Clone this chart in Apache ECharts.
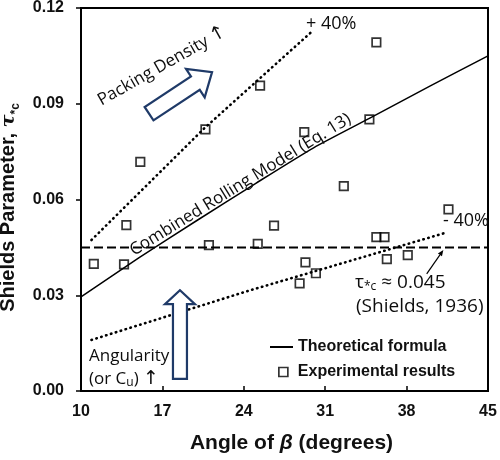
<!DOCTYPE html>
<html><head><meta charset="utf-8">
<script src="https://cdn.jsdelivr.net/npm/echarts@6/dist/echarts.min.js"></script>
<style>html,body{margin:0;padding:0;background:#fff}#c{width:500px;height:460px}</style>
</head><body><div id="c"></div>
<script>
// Experimental results (angle of beta, Shields parameter)
const expX = [11.1, 13.7, 13.9, 15.1, 20.7, 21.0, 25.2, 25.4, 26.6, 28.8, 29.2, 29.3, 30.2, 32.6, 34.8, 35.4, 35.4, 36.1, 36.3, 38.1, 41.6];
const expY = [0.0398, 0.0397, 0.052, 0.0718, 0.082, 0.0457, 0.0461, 0.0957, 0.0518, 0.0337, 0.0811, 0.0403, 0.0369, 0.0642, 0.0851, 0.1092, 0.0482, 0.0482, 0.0413, 0.0426, 0.0569];
// Theoretical formula (Combined Rolling Model, Eq. 13)
const thX = [10, 15, 20, 25, 30, 35, 40, 45];
const thY = [0.0295, 0.0418, 0.0535, 0.065, 0.0762, 0.0858, 0.0955, 0.105];
// +40% and -40% bands
const upX = [10.9, 20.6, 30.0];
const upY = [0.0473, 0.0823, 0.1131];
const loX = [10.9, 24.5, 41.2];
const loY = [0.016, 0.0315, 0.0494];
// Shields (1936) constant
const shX = [10, 45];
const shY = [0.045, 0.045];
// Axis ticks
const xTicks = [10, 17, 24, 31, 38, 45];
const yTicks = [0, 0.03, 0.06, 0.09, 0.12];

const pair = (xs, ys) => xs.map((x, i) => [x, ys[i]]);
const AX = 'Liberation Sans, Arial, sans-serif';
const AN = 'Open Sans, sans-serif';
const TXT = '#0d0d0d';
const NAVY = '#1f3a68';

const chart = echarts.init(document.getElementById('c'), null, {renderer: 'canvas'});
chart.setOption({
  animation: false,
  grid: {left: 81, right: 12, top: 8, bottom: 69, show: true, borderColor: '#000', borderWidth: 2,
    containLabel: false, outerBoundsMode: 'none'},
  xAxis: {
    type: 'value', min: xTicks[0], max: xTicks[xTicks.length - 1], interval: xTicks[1] - xTicks[0],
    axisLine: {lineStyle: {color: '#000', width: 2}},
    axisTick: {inside: true, length: 5, lineStyle: {color: '#000', width: 1.5}},
    axisLabel: {margin: 13, color: '#111', fontFamily: AX, fontWeight: 'bold', fontSize: 16},
    splitLine: {show: false},
    name: 'Angle of {b|β} (degrees)', nameLocation: 'middle', nameGap: 42,
    nameTextStyle: {fontFamily: AX, fontWeight: 'bold', fontSize: 21, color: '#111', padding: [0, 0, 0, 14],
      rich: {b: {fontFamily: AX, fontStyle: 'italic', fontWeight: 'bold', fontSize: 21, color: '#111'}}}
  },
  yAxis: {
    type: 'value', min: yTicks[0], max: yTicks[yTicks.length - 1], interval: yTicks[1] - yTicks[0],
    axisLine: {lineStyle: {color: '#000', width: 2}},
    axisTick: {inside: false, length: 5, lineStyle: {color: '#000', width: 1.5}},
    axisLabel: {margin: 17, color: '#111', fontFamily: AX, fontWeight: 'bold', fontSize: 16, formatter: v => v.toFixed(2)},
    splitLine: {show: false},
    name: 'Shields Parameter, {t|τ}{s|*c}', nameLocation: 'middle', nameGap: 58,
    nameTextStyle: {fontFamily: AX, fontWeight: 'bold', fontSize: 20, color: '#111', lineHeight: 26, padding: [0, 16, 0, 0],
      rich: {
        t: {fontFamily: 'DejaVu Serif, serif', fontStyle: 'italic', fontSize: 19, color: '#111', lineHeight: 26},
        s: {fontFamily: AX, fontSize: 12, color: '#111', lineHeight: 14, verticalAlign: 'bottom'}
      }}
  },
  legend: [
    {data: ['Theoretical formula'], left: 270, top: 339, icon: 'rect', itemWidth: 23, itemHeight: 2, padding: 0, selectedMode: false,
      itemStyle: {color: '#000'}, textStyle: {fontFamily: AX, fontWeight: 'bold', fontSize: 16, color: '#111'}},
    {data: ['Experimental results'], left: 278, top: 364, icon: 'rect', itemWidth: 9, itemHeight: 9, padding: 0, selectedMode: false,
      itemStyle: {color: 'rgba(0,0,0,0)', borderColor: '#000', borderWidth: 1.7},
      textStyle: {fontFamily: AX, fontWeight: 'bold', fontSize: 16, color: '#111', padding: [0, 0, 0, 5]}}
  ],
  series: [
    {name: 'Shields', type: 'line', data: pair(shX, shY), symbol: 'none', z: 2,
      lineStyle: {color: '#000', width: 2, type: [9, 4]}},
    {name: '+40%', type: 'line', data: pair(upX, upY), symbol: 'none', z: 2,
      lineStyle: {color: '#000', width: 2.6, type: [0.5, 4.6], cap: 'round'}},
    {name: '-40%', type: 'line', data: pair(loX, loY), symbol: 'none', z: 2,
      lineStyle: {color: '#000', width: 2.6, type: [0.5, 4.6], cap: 'round'}},
    {name: 'Theoretical formula', type: 'line', data: pair(thX, thY), symbol: 'none', smooth: 0.2, z: 3,
      color: '#000', lineStyle: {color: '#000', width: 1.5}},
    {name: 'Experimental results', type: 'scatter', data: pair(expX, expY), symbol: 'rect', symbolSize: 8.5, z: 5,
      itemStyle: {color: 'rgba(0,0,0,0)', borderColor: '#000', borderWidth: 1.7}}
  ]
});

// Annotation arrows, anchored in data coordinates
function px(p) { return chart.convertToPixel({gridIndex: 0}, p); }
function blockArrow(tail, tip, sw, hw, hl) {
  const a = px(tail), b = px(tip);
  const dx = b[0] - a[0], dy = b[1] - a[1], L = Math.hypot(dx, dy);
  const ux = dx / L, uy = dy / L, nx = -uy, ny = ux;
  const hb = [b[0] - ux * hl, b[1] - uy * hl];
  const P = (o, k) => [o[0] + nx * k, o[1] + ny * k];
  return [P(a, sw / 2), P(hb, sw / 2), P(hb, hw / 2), b, P(hb, -hw / 2), P(hb, -sw / 2), P(a, -sw / 2)];
}
function thinArrow(tail, tip, hl, hw) {
  const a = px(tail), b = px(tip);
  const dx = b[0] - a[0], dy = b[1] - a[1], L = Math.hypot(dx, dy);
  const ux = dx / L, uy = dy / L, nx = -uy, ny = ux;
  const hb = [b[0] - ux * hl, b[1] - uy * hl];
  return {
    line: [a, hb],
    head: [b, [hb[0] + nx * hw / 2, hb[1] + ny * hw / 2], [hb[0] - nx * hw / 2, hb[1] - ny * hw / 2]]
  };
}
const deg = d => d * Math.PI / 180;
const ta = thinArrow([39.73, 0.0367], [41.16, 0.0442], 6, 5);

const subStyle = {fontFamily: AN, fontSize: 12, fill: TXT, verticalAlign: 'bottom', lineHeight: 13};
const arrStyle = {fontFamily: 'DejaVu Sans, sans-serif', fontSize: 19, fill: TXT};
function txt(x, y, rot, text, size, align) {
  return {type: 'text', x: x, y: y, rotation: rot, z: 20,
    style: {text: text, x: 0, y: 0, align: align || 'left', verticalAlign: 'middle',
      fontFamily: AN, fontSize: size, fill: TXT, rich: {s: subStyle, a: arrStyle}}};
}

chart.setOption({
  graphic: [
    {type: 'polygon', z: 15, shape: {points: blockArrow([15.85, 0.0869], [21.27, 0.0999], 16, 34, 20)},
      style: {fill: '#fff', stroke: NAVY, lineWidth: 2.2, lineJoin: 'miter'}},
    {type: 'polygon', z: 15, shape: {points: blockArrow([18.51, 0.0038], [18.51, 0.0316], 14, 30, 14)},
      style: {fill: '#fff', stroke: NAVY, lineWidth: 2.2, lineJoin: 'miter'}},
    {type: 'polyline', z: 15, shape: {points: ta.line}, style: {stroke: '#000', lineWidth: 1.2, fill: null}},
    {type: 'polygon', z: 15, shape: {points: ta.head}, style: {fill: '#000'}},
    txt(162, 66, deg(29.5), 'Packing Density {a|↑}', 17, 'center'),
    txt(306, 24, 0, '+ 40%', 18),
    txt(240.5, 184.7, deg(31.6), 'Combined Rolling Model (Eq. 13)', 17, 'center'),
    txt(443, 221, 0, '- 40%', 18),
    txt(355, 283, 0, 'τ{s|*c} ≈ 0.045', 19),
    txt(356, 307, 0, '(Shields, 1936)', 19),
    txt(89, 356, 0, 'Angularity', 17),
    txt(89, 379, 0, '(or C{s|u}) {a|↑}', 17)
  ]
});
</script>
</body></html>
